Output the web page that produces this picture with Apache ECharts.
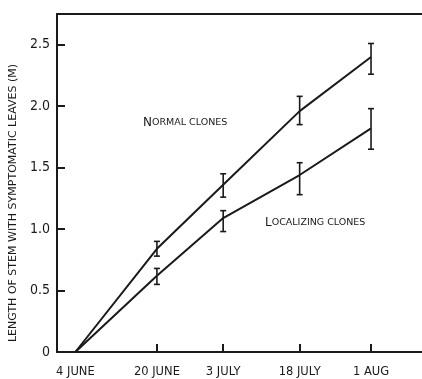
<!DOCTYPE html>
<html>
<head>
    <meta charset="utf-8">
    <title>Stem length</title>
    <script src="https://cdn.jsdelivr.net/npm/echarts@6/dist/echarts.min.js"></script>
    <style>
        html, body { margin: 0; padding: 0; background: #fff; }
        #main { width: 422px; height: 379px; }
    </style>
</head>
<body>
    <div id="main"></div>
    <script type="text/javascript">
        // days counted from 4 June
        var days = [0, 16, 29, 44, 58];
        var dayLabels = ['4 JUNE', '20 JUNE', '3 JULY', '18 JULY', '1 AUG'];
        var yTicks = [0, 0.5, 1.0, 1.5, 2.0, 2.5];

        var normalMean = [0, 0.84, 1.36, 1.96, 2.40];
        var normalLow  = [0, 0.78, 1.26, 1.85, 2.26];
        var normalHigh = [0, 0.90, 1.45, 2.08, 2.51];

        var localMean = [0, 0.62, 1.09, 1.44, 1.82];
        var localLow  = [0, 0.55, 0.98, 1.28, 1.65];
        var localHigh = [0, 0.68, 1.15, 1.54, 1.98];

        var font = '"DejaVu Sans", sans-serif';
        var fontNarrow = '"DejaVu Sans Condensed", "DejaVu Sans", sans-serif';
        var ink = '#1a1a1a';

        function pairs(ys) {
            return days.map(function (d, i) { return [d, ys[i]]; });
        }
        function barData(lo, hi) {
            var out = [];
            for (var i = 1; i < days.length; i++) out.push([days[i], lo[i], hi[i]]);
            return out;
        }
        // error bars, positioned through the axes
        function renderBar(params, api) {
            var top = api.coord([api.value(0), api.value(2)]);
            var bot = api.coord([api.value(0), api.value(1)]);
            var w = 3;
            var st = { stroke: ink, lineWidth: 1.6 };
            return {
                type: 'group',
                children: [
                    { type: 'line', shape: { x1: top[0], y1: top[1], x2: bot[0], y2: bot[1] }, style: st },
                    { type: 'line', shape: { x1: top[0] - w, y1: top[1], x2: top[0] + w, y2: top[1] }, style: st },
                    { type: 'line', shape: { x1: bot[0] - w, y1: bot[1], x2: bot[0] + w, y2: bot[1] }, style: st }
                ]
            };
        }

        var myChart = echarts.init(document.getElementById('main'));
        var option = {
            animation: false,
            backgroundColor: '#fff',
            grid: { left: 57, right: 0, top: 14, bottom: 27 },
            xAxis: [{
                type: 'value',
                min: -3.6,
                max: 68,
                splitLine: { show: false },
                axisLine: { show: true, onZero: false, lineStyle: { color: ink, width: 2 } },
                axisTick: { show: true, inside: true, length: 8, customValues: days.slice(1), lineStyle: { color: ink, width: 2 } },
                axisLabel: {
                    customValues: days,
                    margin: 14,
                    color: ink,
                    fontFamily: font,
                    fontSize: 11.5,
                    formatter: function (v) { return dayLabels[days.indexOf(v)]; }
                }
            }, {
                type: 'value',
                position: 'top',
                min: -3.6,
                max: 68,
                splitLine: { show: false },
                axisLine: { show: true, onZero: false, lineStyle: { color: ink, width: 2 } },
                axisTick: { show: false },
                axisLabel: { show: false }
            }],
            yAxis: {
                type: 'value',
                min: 0,
                max: 2.75,
                splitLine: { show: false },
                axisLine: { show: true, onZero: false, lineStyle: { color: ink, width: 2 } },
                axisTick: { show: true, inside: true, length: 8, customValues: yTicks.slice(1), lineStyle: { color: ink, width: 2 } },
                axisLabel: {
                    customValues: yTicks,
                    margin: 7,
                    color: ink,
                    fontFamily: fontNarrow,
                    fontSize: 14,
                    formatter: function (v) { return v === 0 ? '0' : v.toFixed(1); }
                }
            },
            graphic: [{
                type: 'text',
                x: 13, y: 203,
                rotation: Math.PI / 2,
                style: {
                    text: 'LENGTH OF STEM WITH SYMPTOMATIC LEAVES (M)',
                    fill: ink, font: '11px ' + font,
                    textAlign: 'center', textVerticalAlign: 'middle'
                }
            }, {
                type: 'text',
                x: 143, y: 123,
                style: {
                    text: '{b|N}{s|ORMAL CLONES}',
                    textVerticalAlign: 'middle',
                    rich: {
                        b: { fontSize: 12, fontFamily: font, fill: ink },
                        s: { fontSize: 9.5, fontFamily: font, fill: ink }
                    }
                }
            }, {
                type: 'text',
                x: 265, y: 223,
                style: {
                    text: '{b|L}{s|OCALIZING CLONES}',
                    textVerticalAlign: 'middle',
                    rich: {
                        b: { fontSize: 12, fontFamily: font, fill: ink },
                        s: { fontSize: 9.5, fontFamily: font, fill: ink }
                    }
                }
            }],
            series: [{
                name: 'Normal clones',
                type: 'line',
                data: pairs(normalMean),
                showSymbol: false,
                lineStyle: { color: ink, width: 2 }
            }, {
                name: 'Localizing clones',
                type: 'line',
                data: pairs(localMean),
                showSymbol: false,
                lineStyle: { color: ink, width: 2 }
            }, {
                type: 'custom',
                renderItem: renderBar,
                data: barData(normalLow, normalHigh),
                z: 3
            }, {
                type: 'custom',
                renderItem: renderBar,
                data: barData(localLow, localHigh),
                z: 3
            }]
        };
        myChart.setOption(option);
    </script>
</body>
</html>
